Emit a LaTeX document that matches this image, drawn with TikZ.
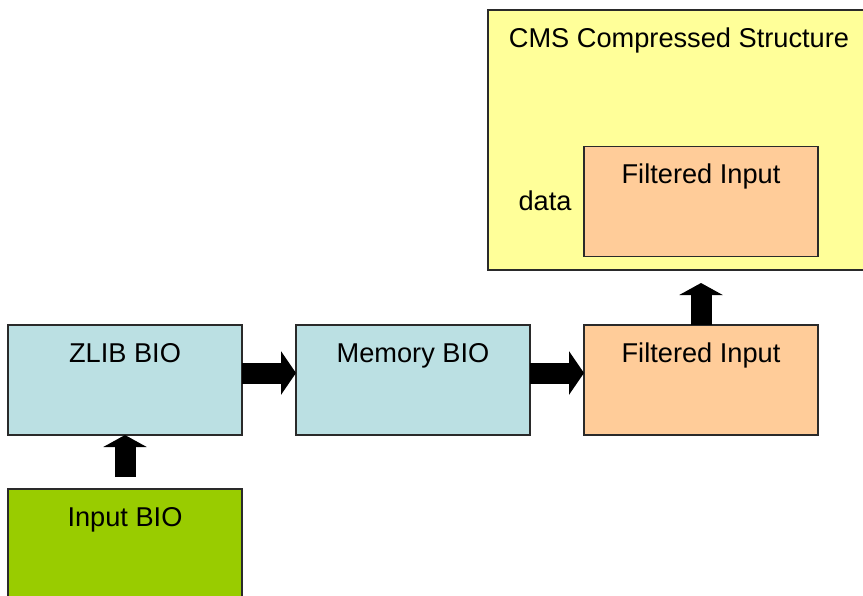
\documentclass[tikz,border=0pt]{standalone}
\usepackage{fontspec}
\setmainfont{Liberation Sans}
\usetikzlibrary{arrows.meta,calc}
\definecolor{cmsyellow}{HTML}{FFFF99}
\definecolor{biocyan}{HTML}{BBE0E3}
\definecolor{filtorange}{HTML}{FFCC99}
\definecolor{inputgreen}{HTML}{99CC00}
\definecolor{edgegray}{HTML}{2A2A2A}
\begin{document}
\begin{tikzpicture}[x=1pt,y=-1pt,
  box/.style={draw=edgegray,line width=1.3pt,inner sep=0pt,outer sep=0pt,minimum width=234pt,minimum height=110pt},
  lbl/.style={anchor=base,font=\fontsize{27.2}{30}\selectfont},
  blockarrow/.style={draw=black,line width=21pt,-{Triangle[length=15pt,width=43pt]}},
  uparrow/.style={draw=black,line width=21pt,-{Triangle[length=12pt,width=43pt]}}]
\clip (0,0) rectangle (863,595);
\fill[white] (0,0) rectangle (863,595);
% boxes
\node[box,fill=cmsyellow,minimum width=382pt,minimum height=260pt] (cms) at (679,140) {};
\node[box,fill=filtorange] (inner) at (701,201.5) {};
\node[box,fill=biocyan] (zlib) at (125,380) {};
\node[box,fill=biocyan] (mem) at (413,380) {};
\node[box,fill=filtorange] (filt) at (701,380) {};
\node[box,fill=inputgreen] (input) at (125,544) {};
% labels
\node[lbl] (cmslbl) at ([yshift=-37pt]cms.north) {CMS Compressed Structure};
\node[lbl] (innerlbl) at ([yshift=-37pt]inner.north) {Filtered Input};
\node[lbl] (datalbl) at (545,210) {data};
\node[lbl] (zliblbl) at ([yshift=-37pt]zlib.north) {ZLIB BIO};
\node[lbl] (memlbl) at ([yshift=-37pt]mem.north) {Memory BIO};
\node[lbl] (filtlbl) at ([yshift=-37pt]filt.north) {Filtered Input};
\node[lbl] (inputlbl) at ([yshift=-37pt]input.north) {Input BIO};
% arrows
\draw[blockarrow] ([yshift=7pt]zlib.east) -- ([yshift=7pt]mem.west);
\draw[blockarrow] ([yshift=7pt]mem.east) -- ([yshift=7pt]filt.west);
\draw[uparrow,shorten <=12pt] (input.north) -- (zlib.south);
\draw[uparrow,shorten >=13pt] (filt.north) -- (filt.north |- cms.south);
\end{tikzpicture}
\end{document}
